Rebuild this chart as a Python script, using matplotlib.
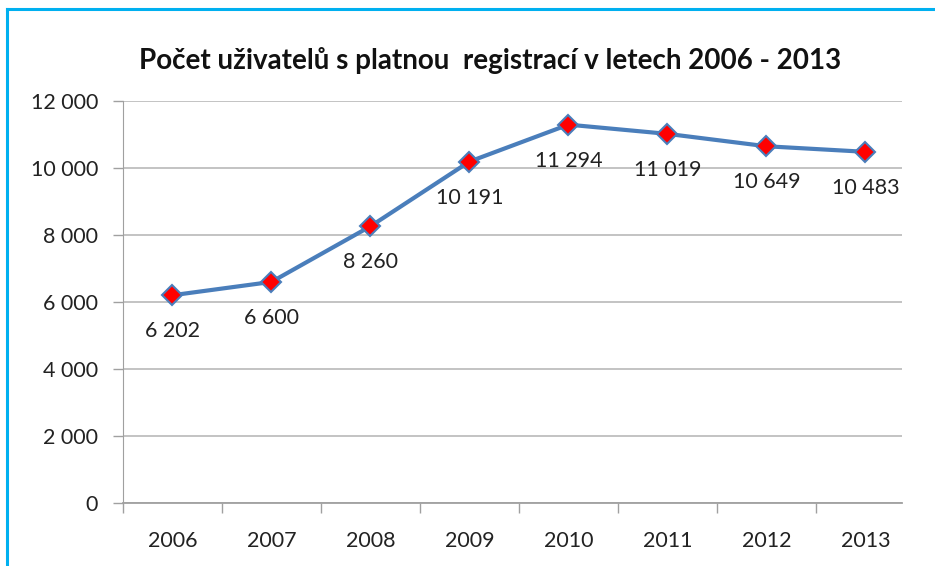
import matplotlib
matplotlib.use("Agg")
import matplotlib.pyplot as plt
from matplotlib.lines import Line2D
from matplotlib.ticker import FuncFormatter

years = ["2006", "2007", "2008", "2009", "2010", "2011", "2012", "2013"]
users = [6202, 6600, 8260, 10191, 11294, 11019, 10649, 10483]
yticks = [0, 2000, 4000, 6000, 8000, 10000, 12000]
title = "Počet uživatelů s platnou  registrací v letech 2006 - 2013"

def fmt(v):
    return f"{int(v):,}".replace(",", " ")

plt.rcParams['font.family'] = ['Lato', 'DejaVu Sans']

fig = plt.figure(figsize=(9.35, 5.66), dpi=100)
ax = fig.add_axes([123/935, 63/566, 779/935, 402/566])

x = list(range(len(years)))
ax.plot(x, users, color="#4A7EBB", lw=3, marker="D", markersize=10,
        markerfacecolor="#FF0000", markeredgecolor="#4A7EBB", markeredgewidth=1.5,
        zorder=3, clip_on=False)
for xi, v in zip(x, users):
    ax.annotate(fmt(v), (xi, v), xytext=(0, -26), textcoords="offset points",
                ha="center", va="center", fontsize=15.5, color="#222222")

ax.set_xlim(-0.5, 7.37)
ax.set_ylim(0, 12000)
ax.set_yticks(yticks)
ax.yaxis.set_major_formatter(FuncFormatter(lambda v, p: fmt(v)))
ax.set_xticks(x)
ax.set_xticklabels(years)
ax.set_xticks([i - 0.5 for i in range(len(years))], minor=True)
ax.tick_params(axis="x", which="major", length=0, pad=20, labelsize=15.5, labelcolor="#222222")
ax.tick_params(axis="x", which="minor", length=7, width=1, color="#A0A0A0")
ax.tick_params(axis="y", length=7, width=1, color="#A0A0A0", pad=11, labelsize=15.5, labelcolor="#222222")
ax.grid(axis="y", color="#BEBEBE", lw=1.3)
ax.set_axisbelow(True)
for s in ["top", "right"]:
    ax.spines[s].set_visible(False)
ax.spines["left"].set_color("#A0A0A0")
ax.spines["bottom"].set_color("#A0A0A0")
ax.spines["bottom"].set_linewidth(1.3)

fig.text(490/935, 1 - 60/566, title, ha="center", va="center", fontsize=20,
         fontweight="bold", color="#111111")

# cyan frame (left and top)
fig.add_artist(Line2D([7/935, 7/935], [0, 1 - 9/566], transform=fig.transFigure,
                      color="#00B0F0", lw=2.2))
fig.add_artist(Line2D([7/935, 1], [1 - 9/566, 1 - 9/566], transform=fig.transFigure,
                      color="#00B0F0", lw=2.2))

fig.savefig("out.png", dpi=100)
